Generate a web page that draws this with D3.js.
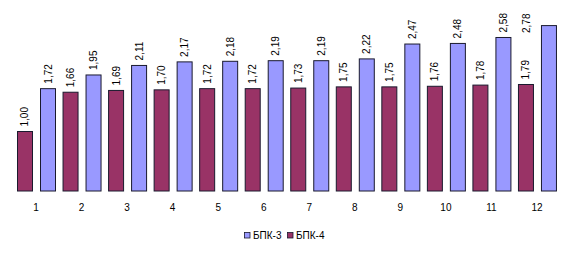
<!DOCTYPE html>
<html><head><meta charset="utf-8">
<script src="https://cdn.jsdelivr.net/npm/d3@7"></script>
<style>body{margin:0;background:#fff;}svg{display:block;font-family:"Liberation Sans",Arial,sans-serif;}</style>
</head><body><svg id="c" width="574" height="255"></svg>
<script>
const categories = ["1","2","3","4","5","6","7","8","9","10","11","12"];
const bpk3 = [1.72,1.95,2.11,2.17,2.18,2.19,2.19,2.22,2.47,2.48,2.58,2.78];
const bpk4 = [1.00,1.66,1.69,1.70,1.72,1.72,1.73,1.75,1.75,1.76,1.78,1.79];
const seriesNames = ["БПК-3","БПК-4"];
const barOrder = ["БПК-4","БПК-3"];
const colors = {"БПК-3":"#9999FF","БПК-4":"#993366"};
const values = {"БПК-3":bpk3,"БПК-4":bpk4};

const svg = d3.select("#c");
const x0 = d3.scaleBand().domain(categories).range([13.25, 559.75]).padding(0);
const x1 = d3.scaleBand().domain(barOrder).range([3.75, 41.75]).paddingInner(0.348);
const y = d3.scaleLinear().domain([0, 3]).range([191, 12.5]);
const fmt = v => d3.format(".2f")(v).replace(".", ",");

const g = svg.append("g");
categories.forEach((c, i) => {
  barOrder.forEach(s => {
    const v = values[s][i];
    const bx = x0(c) + x1(s);
    g.append("rect").attr("x", bx + 0.5).attr("y", y(v))
      .attr("width", x1.bandwidth()).attr("height", y(0) - y(v))
      .attr("fill", colors[s]).attr("stroke", "#1a1a2e").attr("stroke-width", 1);
    let cx = bx + x1.bandwidth() / 2 + 0.5;
    let by = y(v) - 5;
    if (by - 21 < 11) { by = 33; cx = bx - 14; }
    g.append("text").attr("transform", `translate(${cx + 3.5},${by}) rotate(-90)`)
      .attr("font-size", 10).attr("fill", "#000").text(fmt(v));
  });
});

const xAxis = d3.axisBottom(x0).tickSize(0).tickPadding(0);
const ax = svg.append("g").attr("transform", "translate(0,204)").call(xAxis);
ax.select(".domain").remove();
ax.selectAll("text").attr("font-size", 10).attr("font-family", "Liberation Sans, Arial, sans-serif").attr("fill", "#000").attr("dy", "0.71em");

const leg = svg.append("g").attr("transform", "translate(244,232)");
let lx = 0;
seriesNames.forEach(s => {
  leg.append("rect").attr("x", lx + 0.5).attr("y", 0.5).attr("width", 5.5).attr("height", 5.5)
    .attr("fill", colors[s]).attr("stroke", "#1a1a2e").attr("stroke-width", 0.8);
  leg.append("text").attr("x", lx + 9).attr("y", 7.3).attr("font-size", 10).attr("fill", "#000").text(s);
  lx += 43;
});
</script></body></html>
